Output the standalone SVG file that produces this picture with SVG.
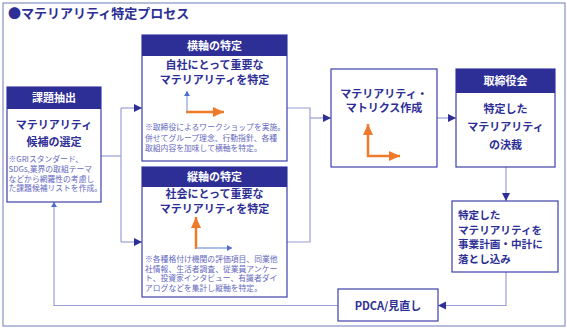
<svg xmlns="http://www.w3.org/2000/svg" width="567" height="328" viewBox="0 0 567 328">
<style>
.frame{fill:#fff;stroke:#8e9ac8;stroke-width:1.3}
.box{fill:#fff;stroke:#3d40a8;stroke-width:1.2}
.hdr{fill:#2d2e96}
.ht{font-family:"Noto Sans CJK JP","Noto Sans",sans-serif;font-size:11px;font-weight:bold;fill:#fff;text-anchor:middle}
.tt{font-family:"Noto Sans CJK JP","Noto Sans",sans-serif;font-size:11px;font-weight:bold;fill:#2d2e96;text-anchor:middle}
.tl{font-family:"Noto Sans CJK JP","Noto Sans",sans-serif;font-size:10.6px;font-weight:bold;fill:#2d2e96}
.nt{font-family:"Noto Sans CJK JP","Noto Sans",sans-serif;font-size:7.8px;fill:#6468c0}
.title{font-family:"Noto Sans CJK JP","Noto Sans",sans-serif;font-size:13px;font-weight:bold;fill:#2d2e96}
.conn{fill:none;stroke:#9a9ed8;stroke-width:1.2}
.or{fill:none;stroke:#ef7b2a;stroke-width:2.5}
.bl{fill:none;stroke:#8fa8e0;stroke-width:1.3}
</style>
<defs>
<marker id="ah" markerUnits="userSpaceOnUse" markerWidth="9" markerHeight="9" refX="8" refY="4.5" orient="auto">
<path d="M0,0.5 L8,4.5 L0,8.5 z" fill="#2d2e96"/>
</marker>
<marker id="ahs" markerUnits="userSpaceOnUse" markerWidth="6" markerHeight="6" refX="5" refY="3" orient="auto">
<path d="M0,0 L5,3 L0,6 z" fill="#4a6ecc"/>
</marker>
<marker id="aho" markerUnits="userSpaceOnUse" markerWidth="12" markerHeight="12" refX="11" refY="6" orient="auto">
<path d="M0,1 L11,6 L0,11 z" fill="#ef7b2a"/>
</marker>
</defs>
<rect class="frame" x="3" y="3" width="562" height="323"/>
<text class="title" x="8" y="18">●マテリアリティ特定プロセス</text>

<g id="connectors">
<path class="conn" d="M101,156 H121"/>
<path class="conn" d="M121,108 V242"/>
<path class="conn" d="M121,108 H142" marker-end="url(#ah)"/>
<path class="conn" d="M121,242 H142" marker-end="url(#ah)"/>
<path class="conn" d="M287,108 H310 V242 H287"/>
<path class="conn" d="M310,118 H331" marker-end="url(#ah)"/>
<path class="conn" d="M437,118 H456" marker-end="url(#ah)"/>
<path class="conn" d="M506,167 V201" marker-end="url(#ah)"/>
<path class="conn" d="M506,272 V305.5 H438" marker-end="url(#ah)"/>
<path class="conn" d="M338,305.5 H54 V202" marker-end="url(#ahs)"/>
</g>

<g id="node-kadai">
<rect class="box" x="7" y="87" width="94" height="115"/>
<rect class="hdr" x="7" y="87" width="94" height="22"/>
<text class="ht" x="54" y="102">課題抽出</text>
<text class="tt" x="54" y="129">マテリアリティ</text>
<text class="tt" x="54" y="146">候補の選定</text>
<text class="nt" x="8.5" y="162">※GRIスタンダード、</text>
<text class="nt" x="8.5" y="172">SDGs,業界の取組テーマ</text>
<text class="nt" x="8.5" y="181.5">などから網羅性の考慮し</text>
<text class="nt" x="8.5" y="191">た課題候補リストを作成。</text>
</g>

<g id="node-yokojiku">
<rect class="box" x="142" y="35" width="145" height="126"/>
<rect class="hdr" x="142" y="35" width="145" height="21"/>
<text class="ht" x="214.5" y="49.5">横軸の特定</text>
<text class="tt" x="214.5" y="69">自社にとって重要な</text>
<text class="tt" x="214.5" y="84">マテリアリティを特定</text>
<path class="bl" d="M187,112 V91" marker-end="url(#ahs)"/>
<path class="or" d="M186,112 H224" marker-end="url(#aho)"/>
<text class="nt" x="145" y="130">※取締役によるワークショップを実施。</text>
<text class="nt" x="145" y="140.5">併せてグループ理念、行動指針、各種</text>
<text class="nt" x="145" y="151">取組内容を加味して横軸を特定。</text>
</g>

<g id="node-tatejiku">
<rect class="box" x="142" y="167" width="145" height="130"/>
<rect class="hdr" x="142" y="167" width="145" height="20"/>
<text class="ht" x="214.5" y="181">縦軸の特定</text>
<text class="tt" x="214.5" y="198">社会にとって重要な</text>
<text class="tt" x="214.5" y="213">マテリアリティを特定</text>
<path class="or" d="M196,249 V217" marker-end="url(#aho)"/>
<path class="bl" d="M196,248 H232" marker-end="url(#ahs)"/>
<text class="nt" x="145" y="261.8">※各種格付け機関の評価項目、同業他</text>
<text class="nt" x="145" y="271.5">社情報、生活者調査、従業員アンケー</text>
<text class="nt" x="145" y="281.2">ト、投資家インタビュー、有識者ダイ</text>
<text class="nt" x="145" y="290.9">アログなどを集計し縦軸を特定。</text>
</g>

<g id="node-matrix">
<rect class="box" x="331" y="69" width="106" height="98"/>
<text class="tt" x="384" y="97.5">マテリアリティ・</text>
<text class="tt" x="384" y="112">マトリクス作成</text>
<path class="or" d="M368,157 V124" marker-end="url(#aho)"/>
<path class="or" d="M367,156 H400" marker-end="url(#aho)"/>
</g>

<g id="node-board">
<rect class="box" x="456" y="69" width="99" height="98"/>
<rect class="hdr" x="456" y="69" width="99" height="24"/>
<text class="ht" x="505.5" y="85">取締役会</text>
<text class="tt" x="505.5" y="113">特定した</text>
<text class="tt" x="505.5" y="131">マテリアリティ</text>
<text class="tt" x="505.5" y="149">の決裁</text>
</g>

<g id="node-plan">
<rect class="box" x="452" y="201" width="106" height="71"/>
<text class="tl" x="458" y="219">特定した</text>
<text class="tl" x="458" y="233.5">マテリアリティを</text>
<text class="tl" x="458" y="248">事業計画・中計に</text>
<text class="tl" x="458" y="262.5">落とし込み</text>
</g>

<g id="node-pdca">
<rect class="box" x="338" y="289" width="100" height="32"/>
<text class="tt" x="388" y="309.5">PDCA/見直し</text>
</g>
</svg>
